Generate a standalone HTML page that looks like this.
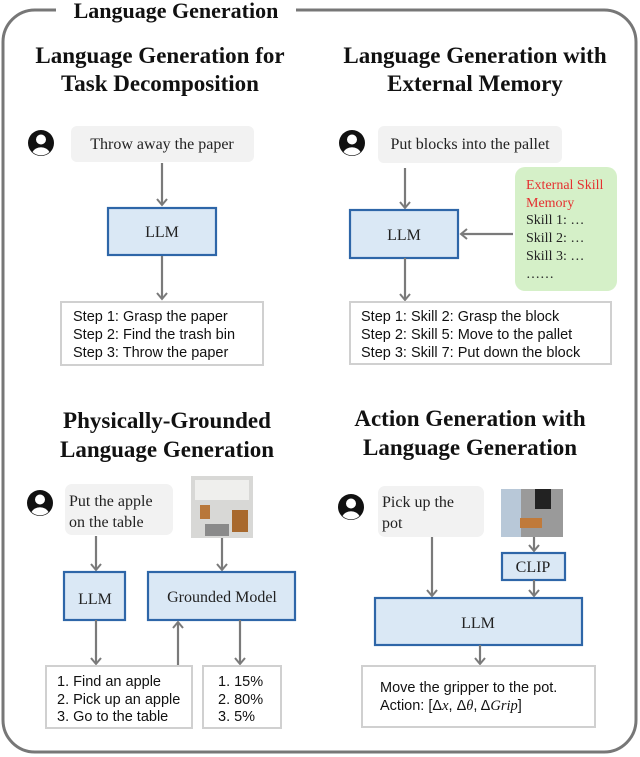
<!DOCTYPE html>
<html><head><meta charset="utf-8"><style>
html,body{margin:0;padding:0;background:#fff;}
svg{display:block;}
.t{font-family:"Liberation Serif",serif;font-weight:bold;font-size:23px;fill:#111;text-anchor:middle;}
.s{font-family:"Liberation Serif",serif;font-size:16px;fill:#222;}
.c{font-family:"Liberation Sans",sans-serif;font-size:14.5px;fill:#111;}
.m{font-family:"Liberation Serif",serif;font-size:14px;fill:#222;}
.a{stroke:#7a7a7a;stroke-width:2.2;fill:none;}
.llm{fill:#dae8f5;stroke:#2e66a8;stroke-width:2.2;}
.out{fill:#fff;stroke:#d0d0d0;stroke-width:2;}
.bub{fill:#f2f2f2;}
</style></head><body>
<svg width="640" height="757" viewBox="0 0 640 757" xmlns="http://www.w3.org/2000/svg">
<defs>
<marker id="ar" markerWidth="12" markerHeight="12" refX="7" refY="6" orient="auto" markerUnits="userSpaceOnUse">
<path d="M1,1 L7,6 L1,11" fill="none" stroke="#7a7a7a" stroke-width="2"/>
</marker>
<g id="user"><circle cx="0" cy="0" r="13" fill="#111"/><circle cx="0" cy="-3.5" r="5" fill="#fff"/><path d="M-8.5,9 A9,7 0 0 1 8.5,9 A12.5,12.5 0 0 1 -8.5,9Z" fill="#fff"/></g>
</defs>
<rect x="3" y="10" width="633" height="742" rx="32" fill="none" stroke="#777" stroke-width="3"/>
<rect x="56" y="0" width="240" height="22" fill="#fff"/>
<text x="176" y="18" class="t" style="font-size:22px">Language Generation</text>

<text x="160" y="63" class="t">Language Generation for</text>
<text x="160" y="91" class="t">Task Decomposition</text>
<text x="475" y="63" class="t">Language Generation with</text>
<text x="475" y="91" class="t">External Memory</text>
<text x="167" y="428" class="t">Physically-Grounded</text>
<text x="167" y="457" class="t">Language Generation</text>
<text x="470" y="426" class="t">Action Generation with</text>
<text x="470" y="455" class="t">Language Generation</text>

<!-- panel 1 -->
<use href="#user" x="41" y="143"/>
<rect x="71" y="126" width="183" height="36" rx="6" class="bub"/>
<text x="162" y="149" class="s" text-anchor="middle">Throw away the paper</text>
<line x1="162" y1="163" x2="162" y2="205" class="a" marker-end="url(#ar)"/>
<rect x="108" y="208" width="108" height="47" class="llm"/>
<text x="162" y="237" class="s" text-anchor="middle">LLM</text>
<line x1="162" y1="256" x2="162" y2="299" class="a" marker-end="url(#ar)"/>
<rect x="61" y="302" width="202" height="63" class="out"/>
<text x="73" y="321" class="c">Step 1: Grasp the paper</text>
<text x="73" y="339" class="c">Step 2: Find the trash bin</text>
<text x="73" y="357" class="c">Step 3: Throw the paper</text>

<!-- panel 2 -->
<use href="#user" x="352" y="143"/>
<rect x="378" y="126" width="184" height="37" rx="6" class="bub"/>
<text x="470" y="149" class="s" text-anchor="middle">Put blocks into the pallet</text>
<line x1="405" y1="168" x2="405" y2="208" class="a" marker-end="url(#ar)"/>
<rect x="350" y="210" width="108" height="48" class="llm"/>
<text x="404" y="240" class="s" text-anchor="middle">LLM</text>
<rect x="515" y="167" width="102" height="124" rx="10" fill="#d5f0c8"/>
<text x="526" y="189" class="m" style="fill:#e53030">External Skill</text>
<text x="526" y="207" class="m" style="fill:#e53030">Memory</text>
<text x="526" y="224" class="m">Skill 1: …</text>
<text x="526" y="242" class="m">Skill 2: …</text>
<text x="526" y="260" class="m">Skill 3: …</text>
<text x="526" y="278" class="m">……</text>
<line x1="513" y1="234" x2="461" y2="234" class="a" marker-end="url(#ar)"/>
<line x1="405" y1="258" x2="405" y2="300" class="a" marker-end="url(#ar)"/>
<rect x="350" y="302" width="261" height="62" class="out"/>
<text x="361" y="321" class="c">Step 1: Skill 2: Grasp the block</text>
<text x="361" y="339" class="c">Step 2: Skill 5: Move to the pallet</text>
<text x="361" y="357" class="c">Step 3: Skill 7: Put down the block</text>

<!-- panel 3 -->
<use href="#user" x="40" y="503"/>
<rect x="65" y="484" width="108" height="51" rx="7" class="bub"/>
<text x="69" y="506" class="s">Put the apple</text>
<text x="69" y="527" class="s">on the table</text>
<rect x="191" y="476" width="62" height="62" fill="#d8d8d6"/>
<rect x="195" y="480" width="54" height="20" fill="#efefed"/>
<rect x="200" y="505" width="10" height="14" fill="#b8773a"/>
<rect x="232" y="510" width="16" height="22" fill="#a8692e"/>
<rect x="205" y="524" width="24" height="12" fill="#8a8a8a"/>
<line x1="96" y1="536" x2="96" y2="570" class="a" marker-end="url(#ar)"/>
<line x1="222" y1="538" x2="222" y2="570" class="a" marker-end="url(#ar)"/>
<rect x="64" y="572" width="61" height="48" class="llm"/>
<text x="95" y="604" class="s" text-anchor="middle">LLM</text>
<rect x="148" y="572" width="147" height="48" class="llm"/>
<text x="222" y="602" class="s" text-anchor="middle">Grounded Model</text>
<line x1="96" y1="620" x2="96" y2="664" class="a" marker-end="url(#ar)"/>
<line x1="178" y1="666" x2="178" y2="622" class="a" marker-end="url(#ar)"/>
<line x1="240" y1="620" x2="240" y2="664" class="a" marker-end="url(#ar)"/>
<rect x="46" y="666" width="146" height="62" class="out"/>
<text x="57" y="686" class="c">1. Find an apple</text>
<text x="57" y="704" class="c">2. Pick up an apple</text>
<text x="57" y="721" class="c">3. Go to the table</text>
<rect x="203" y="666" width="78" height="62" class="out"/>
<text x="218" y="686" class="c">1. 15%</text>
<text x="218" y="704" class="c">2. 80%</text>
<text x="218" y="721" class="c">3. 5%</text>

<!-- panel 4 -->
<use href="#user" x="351" y="507"/>
<rect x="378" y="486" width="106" height="51" rx="7" class="bub"/>
<text x="382" y="507" class="s">Pick up the</text>
<text x="382" y="528" class="s">pot</text>
<rect x="501" y="489" width="62" height="48" fill="#9a9a9a"/>
<rect x="501" y="489" width="20" height="48" fill="#b8c8d8"/>
<rect x="535" y="489" width="16" height="20" fill="#222"/>
<rect x="520" y="518" width="22" height="10" fill="#c07a3a"/>
<line x1="534" y1="537" x2="534" y2="551" class="a" marker-end="url(#ar)"/>
<rect x="502" y="553" width="63" height="27" class="llm"/>
<text x="533" y="572" class="s" text-anchor="middle">CLIP</text>
<line x1="534" y1="580" x2="534" y2="596" class="a" marker-end="url(#ar)"/>
<line x1="432" y1="537" x2="432" y2="596" class="a" marker-end="url(#ar)"/>
<rect x="375" y="598" width="207" height="47" class="llm"/>
<text x="478" y="628" class="s" text-anchor="middle">LLM</text>
<line x1="480" y1="645" x2="480" y2="664" class="a" marker-end="url(#ar)"/>
<rect x="362" y="666" width="233" height="61" class="out"/>
<text x="380" y="692" class="c">Move the gripper to the pot.</text>
<text x="380" y="710" class="c">Action: [Δ<tspan font-style="italic" font-family="Liberation Serif">x</tspan>, Δ<tspan font-style="italic" font-family="Liberation Serif">θ</tspan>, Δ<tspan font-style="italic" font-family="Liberation Serif">Grip</tspan>]</text>
</svg>
</body></html>
